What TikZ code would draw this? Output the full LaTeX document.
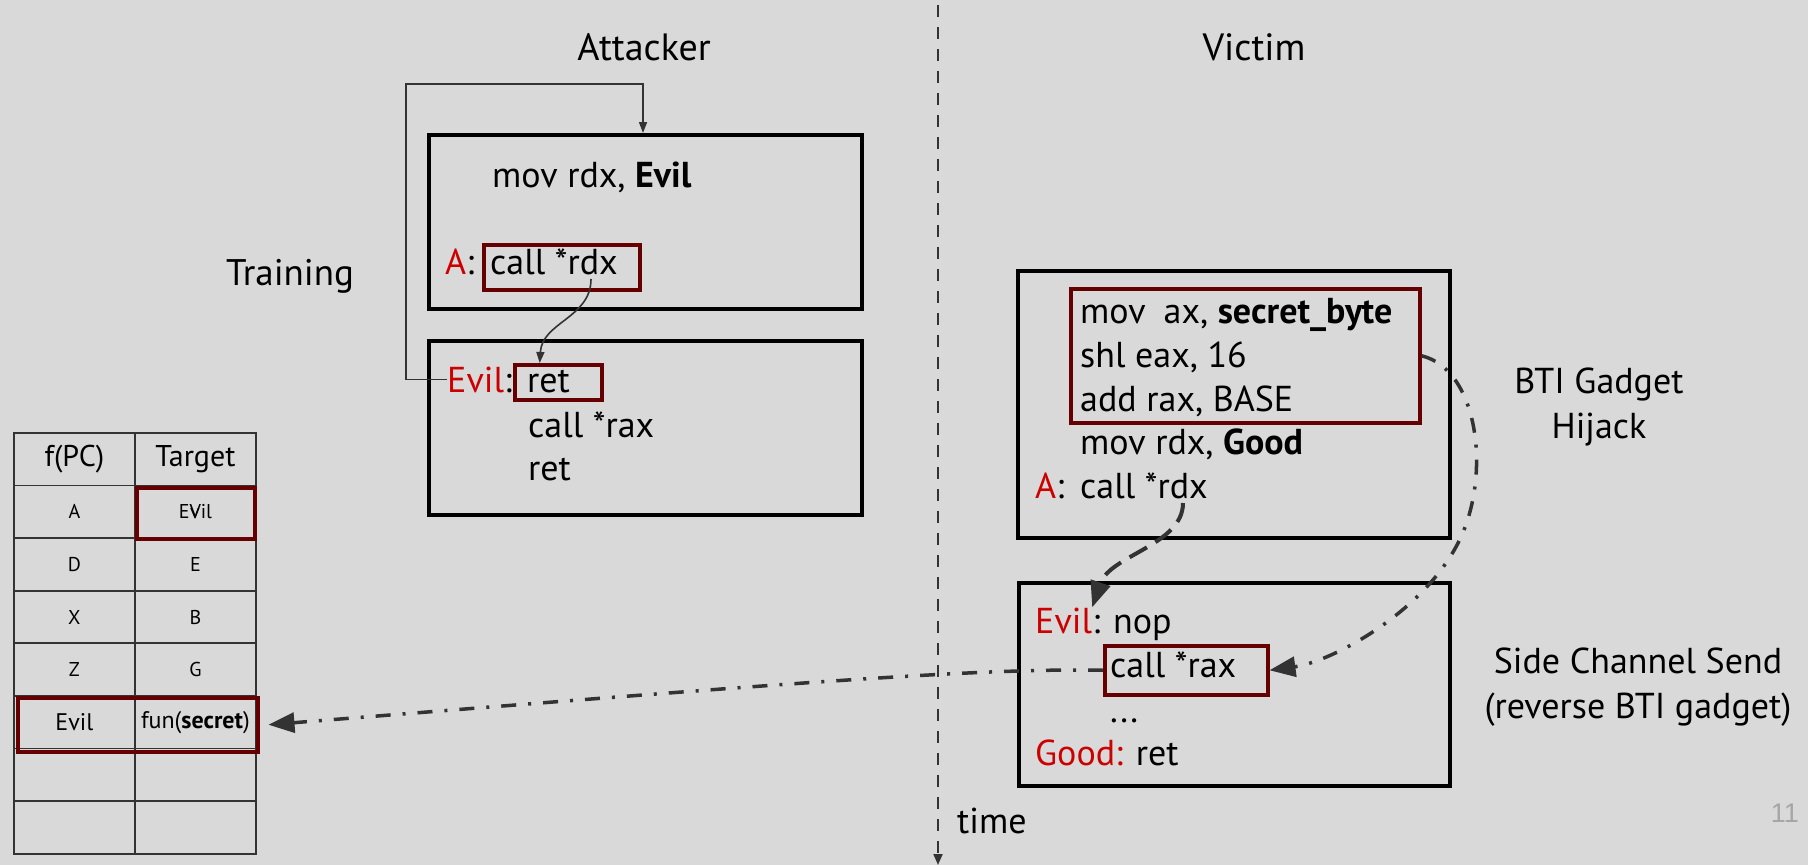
\documentclass[tikz,border=0pt]{standalone}
\usepackage{fontspec}
\setmainfont{PT Sans}
\newfontfamily\pagefont{Liberation Sans}
\usetikzlibrary{arrows.meta,calc}
\definecolor{bg}{HTML}{D9D9D9}
\definecolor{lab}{HTML}{CC0000}
\definecolor{hl}{HTML}{660000}
\definecolor{ink}{HTML}{333333}
\definecolor{pagenum}{HTML}{A6A6A6}
\newcommand{\sz}[1]{\fontsize{#1}{#1}\selectfont}

\begin{document}
\begin{tikzpicture}[x=1pt,y=-1pt,
  txt/.style={anchor=base west, inner sep=0pt, font=\sz{36}},
  ctr/.style={anchor=base, inner sep=0pt, font=\sz{36}},
  codebox/.style={draw=black, line width=4pt, anchor=north west, inner sep=0pt},
  hlbox/.style={draw=hl, line width=3.5pt, anchor=north west, inner sep=0pt},
  cell/.style={draw=ink, line width=1.8pt, anchor=north west, inner sep=0pt,
               minimum width=121pt, minimum height=52.6pt},
  thinarrow/.style={draw=ink, line width=1.6pt, -{Triangle[length=11pt,width=8pt]}},
  bigtip/.style={-{Triangle[length=26pt,width=20pt]}},
  dashedflow/.style={draw=ink, line width=4pt, dash pattern=on 20pt off 10pt, bigtip},
  dotflow/.style={draw=ink, line width=3.5pt, dash pattern=on 15pt off 12pt on 3pt off 12pt, bigtip}
]
\fill[bg] (0,0) rectangle (1808,865);
\useasboundingbox (0,0) rectangle (1808,865);

% headings
\node[ctr, font=\sz{38}] (hAtt) at (644,60) {Attacker};
\node[ctr, font=\sz{38}] (hVic) at (1254,60) {Victim};
\node[txt, font=\sz{37}] (hTrain) at (226,285) {Training};

% time axis
\coordinate (timeTop) at (938,5);
\coordinate (timeBot) at (938,865);
\draw[ink, line width=2pt, dash pattern=on 12pt off 10pt,
      -{Triangle[length=11pt,width=9pt]}] (timeTop) -- (timeBot);
\node[txt] (tTime) at (957,833) {time};

% attacker: training code
\node[codebox, minimum width=433pt, minimum height=174pt] (ab1) at (427,133) {};
\node[codebox, minimum width=433pt, minimum height=174pt] (ab2) at (427,339) {};
\node[txt] (am) at (492,187) {mov rdx, \textbf{Evil}};
\node[txt] (aA) at (445,274) {\textcolor{lab}{A}:};
\node[txt] (acall) at (490,274) {call *rdx};
\node[hlbox, minimum width=156pt, minimum height=45pt] (hlA) at (482,243) {};
\node[txt] (aevil) at (447,392) {\textcolor{lab}{Evil}:};
\node[txt] (aret) at (527,392) {ret};
\node[hlbox, minimum width=87pt, minimum height=35pt] (hlR) at (513,363) {};
\node[txt] (acr) at (528,437) {call *rax};
\node[txt] (aret2) at (528,480) {ret};

% training loop back to the top
\coordinate (loopL) at (406,84);
\coordinate (loopR) at (643,84);
\draw[thinarrow] (aevil.west) -| (loopL) -- (loopR) -- (loopR |- ab1.north);
% indirect call trained onto the gadget
\coordinate (aStart) at (591,279);
\draw[thinarrow] (aStart) .. controls (591,318) and (542,322) .. ($(hlR.north)+(-18.5,0)$);

% victim code
\node[codebox, minimum width=432pt, minimum height=267pt] (vb1) at (1016,269) {};
\node[codebox, minimum width=431pt, minimum height=203pt] (vb2) at (1017,581) {};
\node[hlbox, minimum width=349pt, minimum height=134pt] (vhl) at (1069,287) {};
\node[txt] (v1) at (1080,323) {mov\hspace{0.5em}ax, \textbf{secret\_byte}};
\node[txt] (v2) at (1080,367) {shl eax, 16};
\node[txt] (v3) at (1080,411) {add rax, BASE};
\node[txt] (v4) at (1080,454) {mov rdx, \textbf{Good}};
\node[txt] (vA) at (1035,498) {\textcolor{lab}{A}:};
\node[txt] (vcall) at (1080,498) {call *rdx};
\node[txt] (vEvil) at (1035,633) {\textcolor{lab}{Evil}};
\node[txt] (vnop) at (vEvil.base east) {: nop};
\node[txt] (vcr) at (1110,677) {call *rax};
\node[hlbox, minimum width=163pt, minimum height=49pt] (hlC) at (1103,644) {};
\node[txt] (vdots) at (1110,722) {...};
\node[txt] (vGood) at (1035,765) {\textcolor{lab}{Good:} ret};

% side labels
\node[ctr] (lBti1) at (1599,393) {BTI Gadget};
\node[ctr] (lBti2) at (1599,438) {Hijack};
\node[ctr] (lSc1) at (1638,673) {Side Channel Send};
\node[ctr] (lSc2) at (1638,718) {(reverse BTI gadget)};

% branch target table
\foreach \i/\a/\b/\s in {0/f(PC)/Target/30, 1/A/E\rlap{\kern0.6pt v}Vil/20, 2/D/E/20,
                         3/X/B/20, 4/Z/G/20, 5/Evil/fun(\textbf{secret})/24, 6//{}/20, 7//{}/20} {
  \node[cell, font=\sz{\s}] (c\i a) at (13,432+52.6*\i) {\a};
  \node[cell, font=\sz{\s}] (c\i b) at (134,432+52.6*\i) {\b};
}
\node[hlbox, minimum width=118pt, minimum height=51pt] (hlT) at (135,486) {};
\node[hlbox, minimum width=240pt, minimum height=54pt] (hlRow) at (16,696) {};

% victim flows
\coordinate (dStart) at (1183,503);
\draw[dashedflow] (dStart) .. controls (1183,545) and (1110,555) .. (vEvil.north east);
\draw[dotflow] (vhl.east) .. controls (1480,370) and (1492,480) .. (1457,545)
               .. controls (1420,615) and (1330,662) .. (hlC.east);
\draw[dotflow] (hlC.west) .. controls (980,668) and (800,682) .. ($(hlRow.east)+(9,0)$);

% page number
\node[anchor=base east, inner sep=0pt, font=\pagefont\sz{27}, text=pagenum] (pg) at (1799,822) {11};
\end{tikzpicture}
\end{document}
